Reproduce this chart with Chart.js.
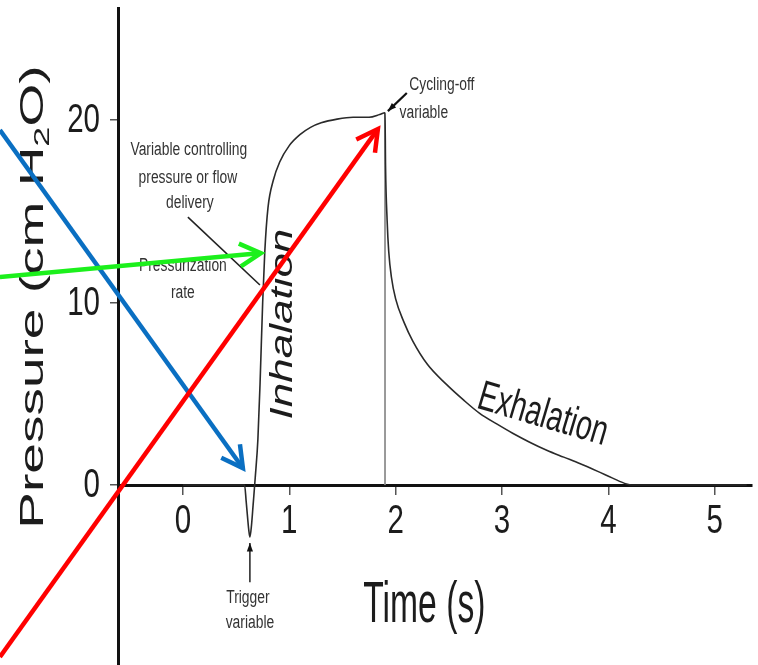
<!DOCTYPE html>
<html>
<head>
<meta charset="utf-8">
<script src="https://cdn.jsdelivr.net/npm/chart.js@4.4.1/dist/chart.umd.min.js"></script>
<style>
  html, body { margin: 0; padding: 0; background: #ffffff; }
  #c { display: block; }
</style>
</head>
<body>
<canvas id="c" width="758" height="665"></canvas>
<script>
// Airway pressure during one assisted breath (time in s, pressure in cm H2O)
const timeS = [0.00, 0.58, 0.595, 0.61, 0.62, 0.63, 0.645, 0.66, 0.68, 0.705, 0.725, 0.75, 0.77, 0.80,
  0.85, 0.91, 1.00, 1.10, 1.20, 1.30, 1.45, 1.60, 1.75, 1.85, 1.90, 1.905, 1.92, 1.935, 1.96, 2.00,
  2.08, 2.16, 2.30, 2.48, 2.64, 2.79, 2.95, 3.10, 3.26, 3.42, 3.58, 3.73, 3.90, 4.04, 4.17, 4.22, 5.30];
const pressureCmH2O = [0, 0, -0.9, -1.9, -2.5, -2.85, -2.2, -1.1, 0.4, 2.5, 5.5, 10.0, 12.8, 15.2,
  16.7, 17.7, 18.6, 19.2, 19.6, 19.85, 20.05, 20.15, 20.15, 20.3, 20.4, 17.5, 14.5, 12.8, 11.4, 10.2,
  8.9, 7.9, 6.6, 5.5, 4.65, 3.93, 3.35, 2.84, 2.35, 1.91, 1.53, 1.18, 0.75, 0.38, 0.06, 0, 0];

// Moment the breath is cycled off
const cycleOffTime = 1.9;
const cycleOffPressure = 20.4;

const xTicks = [0, 1, 2, 3, 4, 5];
const yTicks = [0, 10, 20];

// Coloured pointer arrows: [start, tip] as (time, pressure)
const blueArrow = [[-1.72, 19.45], [0.564, 0.93]];
const greenArrow = [[-1.72, 11.40], [0.733, 12.71]];
const redArrow = [[-1.72, -9.42], [1.833, 19.51]];

// Small black leader lines: [from, to] as (time, pressure)
const controlLeader = [[0.047, 14.68], [0.724, 10.96]];
const cycleLeader = [[2.105, 21.48], [1.927, 20.49]];
const triggerLeader = [[0.63, -5.32], [0.63, -3.18]];

const sans = "'Liberation Sans', Arial, sans-serif";

const notes = [
  { text: 'Variable controlling', at: [0.056, 18.36] },
  { text: 'pressure or flow', at: [0.047, 16.82] },
  { text: 'delivery', at: [0.066, 15.45] },
  { text: 'Pressurization', at: [0.0, 12.0] },
  { text: 'rate', at: [0.0, 10.52] },
  { text: 'Cycling-off', at: [2.434, 21.92] },
  { text: 'variable', at: [2.265, 20.38] },
  { text: 'Trigger', at: [0.611, -6.19] },
  { text: 'variable', at: [0.63, -7.56] }
];

function px(chart, p) {
  return [chart.scales.x.getPixelForValue(p[0]), chart.scales.y.getPixelForValue(p[1])];
}

function openArrow(ctx, a, b, color, width, head) {
  const ang = Math.atan2(b[1] - a[1], b[0] - a[0]);
  const spread = 0.5;
  ctx.save();
  ctx.strokeStyle = color;
  ctx.lineWidth = width;
  ctx.lineCap = 'butt';
  ctx.lineJoin = 'miter';
  ctx.beginPath();
  ctx.moveTo(a[0], a[1]);
  ctx.lineTo(b[0] - Math.cos(ang) * 2, b[1] - Math.sin(ang) * 2);
  ctx.stroke();
  ctx.beginPath();
  ctx.moveTo(b[0] - head * Math.cos(ang - spread), b[1] - head * Math.sin(ang - spread));
  ctx.lineTo(b[0], b[1]);
  ctx.lineTo(b[0] - head * Math.cos(ang + spread), b[1] - head * Math.sin(ang + spread));
  ctx.stroke();
  ctx.restore();
}

function solidArrow(ctx, a, b, color, width, head) {
  const ang = Math.atan2(b[1] - a[1], b[0] - a[0]);
  ctx.save();
  ctx.strokeStyle = color;
  ctx.fillStyle = color;
  ctx.lineWidth = width;
  ctx.beginPath();
  ctx.moveTo(a[0], a[1]);
  ctx.lineTo(b[0], b[1]);
  ctx.stroke();
  ctx.beginPath();
  ctx.moveTo(b[0], b[1]);
  ctx.lineTo(b[0] - head * Math.cos(ang - 0.35), b[1] - head * Math.sin(ang - 0.35));
  ctx.lineTo(b[0] - head * Math.cos(ang + 0.35), b[1] - head * Math.sin(ang + 0.35));
  ctx.closePath();
  ctx.fill();
  ctx.restore();
}

// Draws text squeezed horizontally by sx, optionally rotated after squeezing
function squeezed(ctx, text, x, y, font, sx, opts) {
  ctx.save();
  ctx.fillStyle = opts.color || '#1c1c1c';
  ctx.translate(x, y);
  if (opts.tilt) ctx.rotate(opts.tilt);
  ctx.scale(sx, 1);
  if (opts.upright) ctx.rotate(-Math.PI / 2);
  ctx.font = font;
  ctx.textAlign = opts.align || 'center';
  ctx.textBaseline = opts.baseline || 'middle';
  ctx.fillText(text, 0, 0);
  ctx.restore();
}

const decor = {
  id: 'decor',
  afterDatasetsDraw(chart) {
    const ctx = chart.ctx;
    const xs = chart.scales.x, ys = chart.scales.y;
    const tickFont = '41px ' + sans;

    // tick labels, placed by the scales
    ys.ticks.forEach(t => {
      squeezed(ctx, t.label ?? String(t.value), ys.right - 18, ys.getPixelForValue(t.value) + 1,
        tickFont, 0.72, { align: 'right' });
    });
    const axisY = ys.getPixelForValue(0);
    xs.ticks.forEach(t => {
      squeezed(ctx, t.label ?? String(t.value), xs.getPixelForValue(t.value), axisY + 37,
        tickFont, 0.72, {});
    });

    // y-axis title with subscript
    ctx.save();
    ctx.fillStyle = '#1c1c1c';
    ctx.translate(43, ys.getPixelForValue(10.3));
    ctx.scale(0.61, 1);
    ctx.rotate(-Math.PI / 2);
    const big = '55px ' + sans, small = '36px ' + sans;
    ctx.font = big;
    const w1 = ctx.measureText('Pressure (cm H').width;
    const w3 = ctx.measureText('O)').width;
    ctx.font = small;
    const w2 = ctx.measureText('2').width;
    const x0 = -(w1 + w2 + w3) / 2;
    ctx.textBaseline = 'alphabetic';
    ctx.textAlign = 'left';
    ctx.font = big;
    ctx.fillText('Pressure (cm H', x0, 0);
    ctx.font = small;
    ctx.fillText('2', x0 + w1, 10);
    ctx.font = big;
    ctx.fillText('O)', x0 + w1 + w2, 0);
    ctx.restore();

    // x-axis title
    squeezed(ctx, 'Time (s)', xs.getPixelForValue(2.27), ys.getPixelForValue(-7.5),
      '58px ' + sans, 0.58, { baseline: 'alphabetic' });

    // phase labels
    squeezed(ctx, 'Inhalation', xs.getPixelForValue(1.027), ys.getPixelForValue(8.82),
      'italic 44px ' + sans, 0.70, { upright: true, baseline: 'alphabetic' });
    squeezed(ctx, 'Exhalation', xs.getPixelForValue(3.383), ys.getPixelForValue(3.82),
      '42px ' + sans, 0.68, { tilt: 16.5 * Math.PI / 180 });

    // small explanatory notes
    notes.forEach(n => {
      const p = px(chart, n.at);
      squeezed(ctx, n.text, p[0], p[1], '18px ' + sans, 0.77, { color: '#333333' });
    });

    // leader lines
    const c0 = px(chart, controlLeader[0]), c1 = px(chart, controlLeader[1]);
    ctx.save();
    ctx.strokeStyle = '#222';
    ctx.lineWidth = 1.6;
    ctx.beginPath();
    ctx.moveTo(c0[0], c0[1]);
    ctx.lineTo(c1[0], c1[1]);
    ctx.stroke();
    ctx.restore();
    solidArrow(ctx, px(chart, cycleLeader[0]), px(chart, cycleLeader[1]), '#111', 2.2, 9);
    solidArrow(ctx, px(chart, triggerLeader[0]), px(chart, triggerLeader[1]), '#111', 1.4, 9);

    // coloured arrows on top
    openArrow(ctx, px(chart, blueArrow[0]), px(chart, blueArrow[1]), '#0a6fc2', 4.5, 24);
    openArrow(ctx, px(chart, greenArrow[0]), px(chart, greenArrow[1]), '#1cf01c', 4.5, 24);
    openArrow(ctx, px(chart, redArrow[0]), px(chart, redArrow[1]), '#ff0000', 4.5, 24);
  }
};

new Chart(document.getElementById('c'), {
  type: 'line',
  data: {
    datasets: [
      {
        data: timeS.map((t, i) => ({ x: t, y: pressureCmH2O[i] })),
        borderColor: '#2a2a2a',
        borderWidth: 1.6,
        pointRadius: 0,
        fill: false,
        cubicInterpolationMode: 'monotone'
      },
      {
        data: [{ x: cycleOffTime, y: cycleOffPressure }, { x: cycleOffTime, y: 0 }],
        borderColor: '#8c8c8c',
        borderWidth: 1,
        pointRadius: 0,
        fill: false
      }
    ]
  },
  options: {
    responsive: false,
    animation: false,
    layout: { padding: { top: 8, right: 6, bottom: 0, left: 0 } },
    plugins: { legend: { display: false }, tooltip: { enabled: false } },
    scales: {
      x: {
        type: 'linear',
        min: -0.61,
        max: 5.35,
        position: { y: 0 },
        afterBuildTicks: s => { s.ticks = xTicks.map(v => ({ value: v })); },
        afterFit: s => { s.paddingLeft = 0; s.paddingRight = 0; },
        grid: { drawOnChartArea: false, drawTicks: true, tickLength: 8, color: '#555', lineWidth: 1.5 },
        border: { display: true, color: '#111', width: 3 },
        ticks: { display: false }
      },
      y: {
        type: 'linear',
        min: -9.86,
        max: 26.14,
        afterBuildTicks: s => { s.ticks = yTicks.map(v => ({ value: v })); },
        afterFit: s => { s.width = 118; s.paddingTop = 0; s.paddingBottom = 0; },
        grid: { drawOnChartArea: false, drawTicks: true, tickLength: 8, color: '#555', lineWidth: 1.5 },
        border: { display: true, color: '#111', width: 3 },
        ticks: { display: false }
      }
    }
  },
  plugins: [decor]
});
</script>
</body>
</html>
